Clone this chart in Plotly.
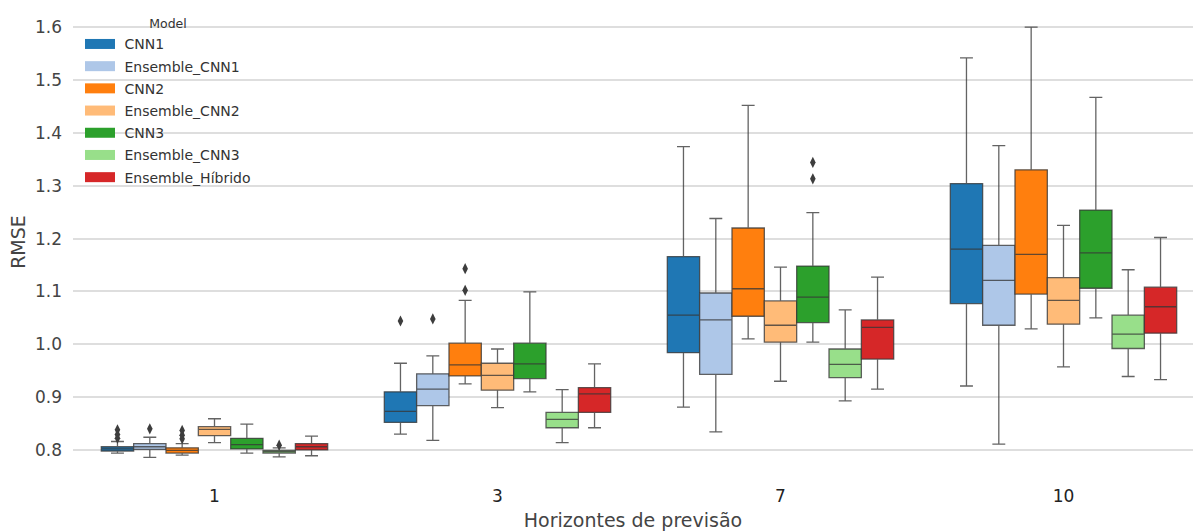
import plotly.graph_objects as go

# Forecast horizons (x categories)
horizons = ["1", "3", "7", "10"]

# Models and their colours (tab20 pairs)
models = ["CNN1", "Ensemble_CNN1", "CNN2", "Ensemble_CNN2", "CNN3", "Ensemble_CNN3", "Ensemble_Híbrido"]
colors = ["#1f77b4", "#aec7e8", "#ff7f0e", "#ffbb78", "#2ca02c", "#98df8a", "#d62728"]

# Box statistics per horizon: (lower whisker, Q1, median, Q3, upper whisker)
cnn1 = [(0.794, 0.798, 0.802, 0.806, 0.816), (0.830, 0.852, 0.873, 0.910, 0.964),
        (0.881, 0.984, 1.055, 1.166, 1.374), (0.921, 1.077, 1.180, 1.304, 1.542)]
ens_cnn1 = [(0.786, 0.801, 0.806, 0.812, 0.824), (0.818, 0.884, 0.915, 0.944, 0.978),
            (0.834, 0.943, 1.046, 1.097, 1.238), (0.811, 1.036, 1.121, 1.187, 1.376)]
cnn2 = [(0.790, 0.794, 0.799, 0.804, 0.812), (0.925, 0.940, 0.961, 1.002, 1.083),
        (1.010, 1.053, 1.105, 1.220, 1.452), (1.029, 1.095, 1.170, 1.330, 1.600)]
ens_cnn2 = [(0.814, 0.827, 0.839, 0.844, 0.859), (0.880, 0.913, 0.941, 0.964, 0.991),
            (0.930, 1.004, 1.036, 1.082, 1.146), (0.957, 1.038, 1.083, 1.126, 1.225)]
cnn3 = [(0.794, 0.802, 0.810, 0.822, 0.849), (0.910, 0.935, 0.963, 1.002, 1.099),
        (1.004, 1.041, 1.089, 1.148, 1.249), (1.050, 1.106, 1.173, 1.254, 1.467)]
ens_cnn3 = [(0.787, 0.794, 0.797, 0.799, 0.804), (0.814, 0.842, 0.858, 0.871, 0.914),
            (0.893, 0.937, 0.962, 0.991, 1.065), (0.939, 0.992, 1.019, 1.055, 1.141)]
ens_hibrido = [(0.789, 0.800, 0.806, 0.812, 0.826), (0.842, 0.871, 0.906, 0.918, 0.963),
               (0.915, 0.972, 1.032, 1.046, 1.127), (0.933, 1.021, 1.071, 1.108, 1.202)]
stats = [cnn1, ens_cnn1, cnn2, ens_cnn2, cnn3, ens_cnn3, ens_hibrido]

# Outliers per model, per horizon
out_cnn1 = [[0.822, 0.829, 0.838], [1.044], [], []]
out_ens_cnn1 = [[0.840], [1.048], [], []]
out_cnn2 = [[0.821, 0.828, 0.837], [1.102, 1.143], [], []]
out_ens_cnn2 = [[], [], [], []]
out_cnn3 = [[], [], [1.313, 1.344], []]
out_ens_cnn3 = [[0.809], [], [], []]
out_ens_hibrido = [[], [], [], []]
outliers = [out_cnn1, out_ens_cnn1, out_cnn2, out_ens_cnn2, out_cnn3, out_ens_cnn3, out_ens_hibrido]

y_ticks = [0.8, 0.9, 1.0, 1.1, 1.2, 1.3, 1.4, 1.5, 1.6]

FONT = "DejaVu Sans"
n = len(models)
group_width = 0.8
box_w = group_width / n
line_col = "rgba(55,55,55,0.78)"

fig = go.Figure()
for i, (name, col, st, outs) in enumerate(zip(models, colors, stats, outliers)):
    offset = (i - (n - 1) / 2) * box_w
    xs = [h + offset for h in range(len(horizons))]
    fig.add_trace(go.Box(
        name=name,
        x=xs,
        lowerfence=[s[0] for s in st],
        q1=[s[1] for s in st],
        median=[s[2] for s in st],
        q3=[s[3] for s in st],
        upperfence=[s[4] for s in st],
        width=box_w,
        whiskerwidth=0.4,
        fillcolor=col,
        line=dict(color=line_col, width=1.3),
        boxpoints=False,
        showlegend=False,
        hoverinfo="skip",
    ))
    ox, oy = [], []
    for h, vals in enumerate(outs):
        for v in vals:
            ox.append(h + offset)
            oy.append(v)
    if ox:
        fig.add_trace(go.Scatter(
            x=ox, y=oy, mode="markers", showlegend=False,
            marker=dict(symbol="diamond-tall", size=8, color="#3d3d3d"),
            hoverinfo="skip",
        ))

# Legend entries drawn as wide colour patches
for name, col in zip(models, colors):
    fig.add_trace(go.Scatter(
        x=[None], y=[None], mode="lines", name="\u00a0" + name, legendgroup=name,
        line=dict(color=col, width=10), hoverinfo="skip",
    ))

fig.update_layout(
    width=1193, height=532,
    margin=dict(l=73, r=0, t=5, b=53),
    paper_bgcolor="white", plot_bgcolor="white",
    boxmode="overlay",
    font=dict(family=FONT, color="#444444"),
    showlegend=True,
    legend=dict(
        x=7 / 1120, y=0.985, xanchor="left", yanchor="top",
        bgcolor="rgba(0,0,0,0)",
        font=dict(size=14, color="#333333", family=FONT),
        title=dict(text="Model", side="top center", font=dict(size=12.5, color="#333333")),
        itemwidth=30,
        tracegroupgap=1,
    ),
)

fig.update_xaxes(
    range=[-0.5, (1193 - 73) / 283 - 0.5],
    tickvals=list(range(len(horizons))), ticktext=horizons,
    tickfont=dict(size=17, color="#222222"),
    ticklabelstandoff=5,
    showgrid=False, zeroline=False, showline=False, ticks="",
    title=dict(text="Horizontes de previsão", font=dict(size=19, color="#444444"), standoff=8),
)
fig.update_yaxes(
    range=[0.745, 1.642],
    tickvals=y_ticks, tickformat=".1f",
    tickfont=dict(size=17, color="#444444"),
    ticklabelstandoff=10,
    showgrid=True, gridcolor="#dedede", gridwidth=1.5,
    zeroline=False, showline=False, ticks="",
    title=dict(text="RMSE", font=dict(size=19, color="#444444"), standoff=4),
)

fig.write_html("out.html")
